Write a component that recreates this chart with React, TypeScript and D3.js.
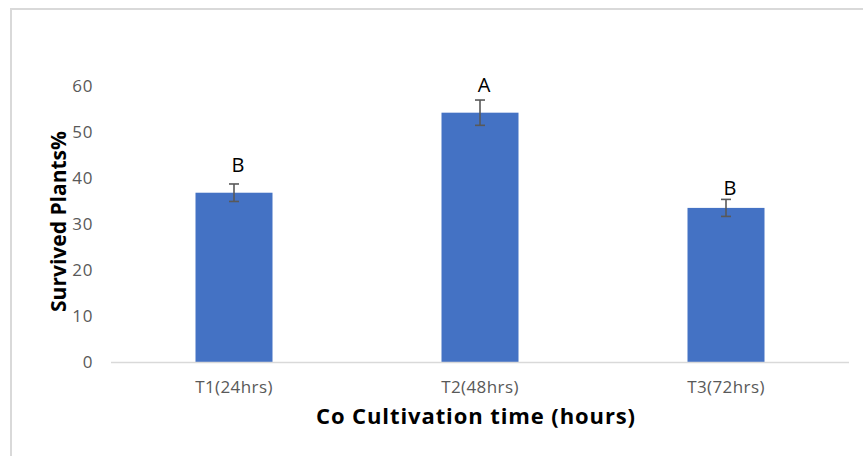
import React from "react";
import * as d3 from "d3";

const categories = ["T1(24hrs)", "T2(48hrs)", "T3(72hrs)"];
const values = [36.8, 54.2, 33.5];
const errors = [1.9, 2.75, 1.85];
const letters = ["B", "A", "B"];
const letterValue = [41.2, 58.7, 36.3];
const yTicks = [0, 10, 20, 30, 40, 50, 60];
const yTitle = "Survived Plants%";
const xTitle = "Co Cultivation time (hours)";

const W = 863;
const H = 456;
const FONT = "'Open Sans', 'DejaVu Sans', sans-serif";

export default function App() {
  const x = d3.scaleBand<string>().domain(categories).range([111, 849]).paddingInner(0.687).paddingOuter(0.3435);
  const y = d3.scaleLinear().domain([0, 60]).range([362, 86]);
  const bw = x.bandwidth();

  return (
    <div style={{ position: "absolute", left: 0, top: 0 }}>
      <svg width={W} height={H} style={{ display: "block", background: "#fff" }}>
        <rect x={0} y={0} width={W} height={H} fill="#fff" />
        <path d={`M11,${H + 2} L11,9 L${W + 2},9`} fill="none" stroke="#d9d9d9" strokeWidth={2} />
        {categories.map((c, i) => (
          <rect key={c} x={x(c)!} y={y(values[i])} width={bw} height={y(0) - y(values[i])} fill="#4472C4" />
        ))}
        <line x1={111} x2={849} y1={y(0) + 0.5} y2={y(0) + 0.5} stroke="#d9d9d9" strokeWidth={1.5} />
        {categories.map((c, i) => {
          const cx = x(c)! + bw / 2;
          const t = y(values[i] + errors[i]);
          const b = y(values[i] - errors[i]);
          return (
            <g key={"e" + c} stroke="#595959" strokeWidth={1.6}>
              <line x1={cx} x2={cx} y1={t} y2={b} />
              <line x1={cx - 5} x2={cx + 5} y1={t} y2={t} />
              <line x1={cx - 5} x2={cx + 5} y1={b} y2={b} />
            </g>
          );
        })}
        {categories.map((c, i) => (
          <text key={"l" + c} x={x(c)! + bw / 2 + 4} y={y(letterValue[i])} textAnchor="middle" fontFamily={FONT} fontSize={20} fill="#000">
            {letters[i]}
          </text>
        ))}
        {yTicks.map((t) => (
          <text key={"y" + t} x={93} y={y(t)} dy="0.35em" textAnchor="end" fontFamily={FONT} fontSize={17} letterSpacing={0.6} fill="#595959">
            {t}
          </text>
        ))}
        {categories.map((c) => (
          <text key={"x" + c} x={x(c)! + bw / 2} y={393} textAnchor="middle" fontFamily={FONT} fontSize={17} letterSpacing={0.4} fill="#595959">
            {c}
          </text>
        ))}
        <text x={476} y={424} textAnchor="middle" fontFamily={FONT} fontSize={22} letterSpacing={0.9} fontWeight="bold" fill="#000">
          {xTitle}
        </text>
        <text transform="translate(66,221.5) rotate(-90)" textAnchor="middle" fontFamily={FONT} fontSize={21} fontWeight="bold" fill="#000">
          {yTitle}
        </text>
      </svg>
    </div>
  );
}
